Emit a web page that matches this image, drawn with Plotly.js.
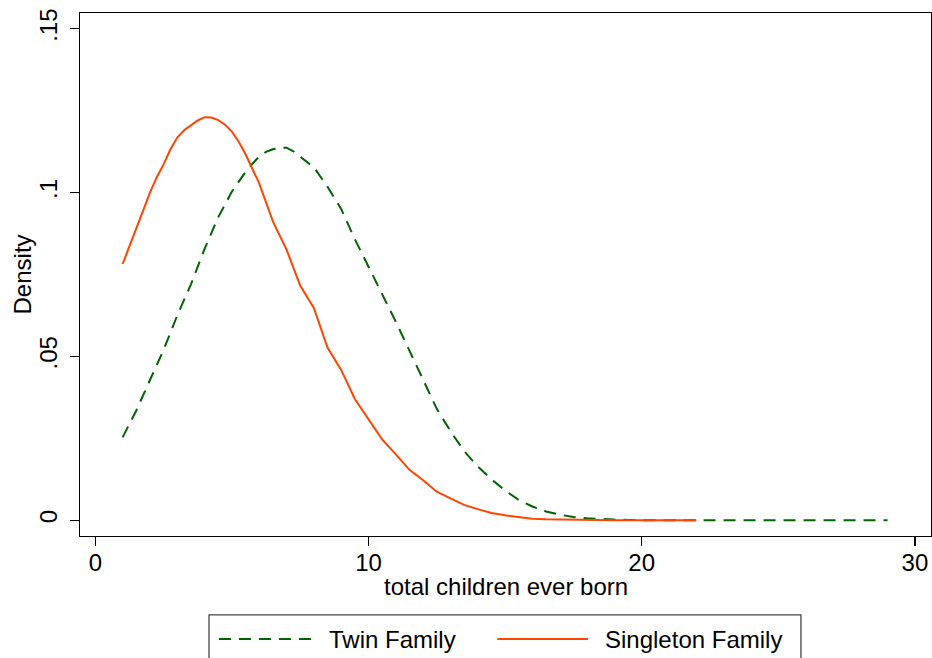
<!DOCTYPE html>
<html>
<head>
<meta charset="utf-8">
<script src="https://cdn.plot.ly/plotly-3.0.1.min.js"></script>
<style>
  html, body { margin: 0; padding: 0; background: #ffffff; }
  #chart { width: 932px; height: 658px; }
</style>
</head>
<body>
<div id="chart"></div>
<script>
// Kernel density of total children ever born, by family type
var twinX = [1, 1.5, 2, 2.5, 3, 3.5, 4, 4.5, 5, 5.25, 5.5, 5.75, 6, 6.25, 6.5, 6.75,
  7, 7.25, 7.5, 8, 8.5, 9, 9.5, 10, 10.5, 11, 11.5, 12, 12.5, 13, 13.5, 14, 14.5,
  15, 15.5, 16, 16.5, 17, 17.5, 18, 18.5, 19, 19.5, 20, 22, 24, 26, 28, 29];
var twinDensity = [0.0253, 0.0335, 0.0428, 0.0520, 0.0625, 0.0720, 0.0828, 0.0925,
  0.1003, 0.1035, 0.1063, 0.1088, 0.1110, 0.1124, 0.1132, 0.1137, 0.1137, 0.1126,
  0.1109, 0.1077, 0.1018, 0.0950, 0.0858, 0.0772, 0.0690, 0.0606, 0.0517, 0.0430,
  0.0340, 0.0272, 0.0211, 0.0164, 0.0125, 0.0091, 0.0062, 0.0042, 0.0027, 0.0017,
  0.0010, 0.0006, 0.0003, 0.0002, 0.0001, 0, 0, 0, 0, 0, 0];

var singletonX = [1, 1.25, 1.5, 1.75, 2, 2.25, 2.5, 2.75, 3, 3.25, 3.5, 3.75, 4, 4.25,
  4.5, 4.75, 5, 5.25, 5.5, 6, 6.5, 7, 7.5, 8, 8.5, 9, 9.5, 10, 10.5, 11, 11.5, 12,
  12.5, 13, 13.5, 14, 14.5, 15, 15.5, 16, 16.5, 17, 17.5, 18, 19, 20, 21, 22];
var singletonDensity = [0.0782, 0.0835, 0.0886, 0.0945, 0.1000, 0.1047, 0.1086,
  0.1132, 0.1168, 0.1190, 0.1205, 0.1220, 0.1230, 0.1229, 0.1221, 0.1207, 0.1186,
  0.1155, 0.1117, 0.1028, 0.0912, 0.0826, 0.0716, 0.0648, 0.0527, 0.0459, 0.0370,
  0.0308, 0.0247, 0.0201, 0.0154, 0.0122, 0.0087, 0.0067, 0.0047, 0.0034, 0.0022,
  0.0015, 0.0009, 0.0005, 0.0003, 0.0002, 0.0001, 0, 0, 0, 0, 0];

var xTicks = [0, 10, 20, 30];
var yTicks = [0, 0.05, 0.1, 0.15];
var yTickText = ['0', '.05', '.1', '.15'];
var seriesNames = ['Twin Family', 'Singleton Family'];
var xTitle = 'total children ever born';
var yTitle = 'Density';

var TWIN_COLOR = '#006400';
var SINGLE_COLOR = '#ff4500';
var DASH = '12px,8px';
var FONT = 'Liberation Sans, Arial, Helvetica, sans-serif';

var traces = [
  {
    x: twinX, y: twinDensity, name: seriesNames[0], type: 'scatter', mode: 'lines',
    line: { color: TWIN_COLOR, width: 2, dash: DASH }
  },
  {
    x: singletonX, y: singletonDensity, name: seriesNames[1], type: 'scatter', mode: 'lines',
    line: { color: SINGLE_COLOR, width: 2 }
  }
];

// legend box below the plot (paper coordinates)
var legendTop = -0.151, legendBottom = -0.26, legendMid = -0.197;
var shapes = [
  { type: 'rect', xref: 'paper', yref: 'paper', x0: 0.1516, x1: 0.8472,
    y0: legendBottom, y1: legendTop, line: { color: '#444', width: 1.3 } },
  { type: 'line', xref: 'paper', yref: 'paper', x0: 0.1633, x1: 0.2738,
    y0: legendMid, y1: legendMid, line: { color: TWIN_COLOR, width: 2, dash: DASH } },
  { type: 'line', xref: 'paper', yref: 'paper', x0: 0.4904, x1: 0.5970,
    y0: legendMid, y1: legendMid, line: { color: SINGLE_COLOR, width: 2 } }
];
var annotations = [
  { xref: 'paper', yref: 'paper', x: 0.2897, y: legendMid, xanchor: 'left', yanchor: 'middle',
    text: seriesNames[0], showarrow: false, font: { family: FONT, size: 24, color: '#000' } },
  { xref: 'paper', yref: 'paper', x: 0.6149, y: legendMid, xanchor: 'left', yanchor: 'middle',
    text: seriesNames[1], showarrow: false, font: { family: FONT, size: 24, color: '#000' } },
  // axis titles
  { xref: 'paper', yref: 'paper', x: 0.5, y: -0.0975, xanchor: 'center', yanchor: 'middle',
    text: xTitle, showarrow: false, font: { family: FONT, size: 24, color: '#000' } },
  { xref: 'paper', yref: 'paper', x: -0.067, y: 0.5, xanchor: 'center', yanchor: 'middle',
    textangle: -90, text: yTitle, showarrow: false,
    font: { family: FONT, size: 24, color: '#000' } }
];

var layout = {
  width: 932, height: 658,
  margin: { l: 80, r: 1, t: 13, b: 122, pad: 0 },
  paper_bgcolor: '#ffffff', plot_bgcolor: '#ffffff',
  showlegend: false,
  font: { family: FONT, size: 24, color: '#000' },
  xaxis: {
    range: [-0.56, 30.59], tickvals: xTicks, ticks: 'outside', ticklen: 9, tickwidth: 1.3,
    tickcolor: '#000', showline: true, linecolor: '#000', linewidth: 1.3, mirror: true,
    showgrid: false, zeroline: false, tickfont: { size: 24 }, ticklabelstandoff: -4
  },
  yaxis: {
    range: [-0.0048, 0.1548], tickvals: yTicks, ticktext: yTickText, tickangle: -90,
    ticks: 'outside', ticklen: 9, tickwidth: 1.3, tickcolor: '#000',
    showline: true, linecolor: '#000', linewidth: 1.3, mirror: true,
    showgrid: false, zeroline: false, tickfont: { size: 24 }, ticklabelstandoff: 3
  },
  shapes: shapes,
  annotations: annotations
};

Plotly.newPlot('chart', traces, layout, { displayModeBar: false, staticPlot: true });
</script>
</body>
</html>
